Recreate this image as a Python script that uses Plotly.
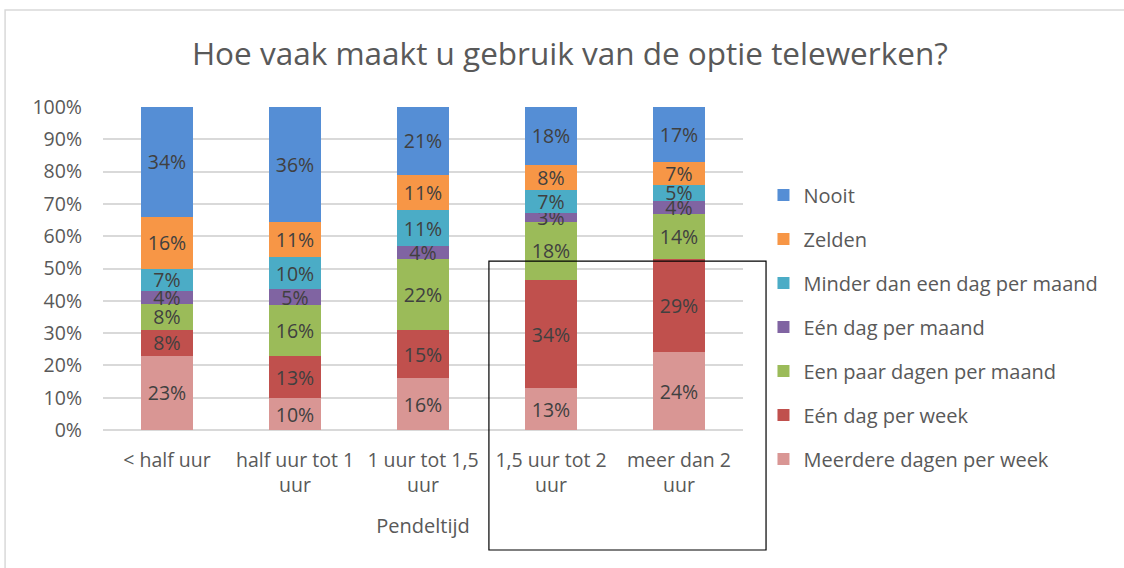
import plotly.graph_objects as go

categories = ["< half uur", "half uur tot 1<br>uur", "1 uur tot 1,5<br>uur", "1,5 uur tot 2<br>uur", "meer dan 2<br>uur"]

series_names = ["Meerdere dagen per week", "Eén dag per week", "Een paar dagen per maand",
                "Eén dag per maand", "Minder dan een dag per maand", "Zelden", "Nooit"]

meerdere_dagen_per_week = [23, 10, 16, 13, 24]
een_dag_per_week = [8, 13, 15, 34, 29]
een_paar_dagen_per_maand = [8, 16, 22, 18, 14]
een_dag_per_maand = [4, 5, 4, 3, 4]
minder_dan_een_dag_per_maand = [7, 10, 11, 7, 5]
zelden = [16, 11, 11, 8, 7]
nooit = [34, 36, 21, 18, 17]

series_values = [meerdere_dagen_per_week, een_dag_per_week, een_paar_dagen_per_maand,
                 een_dag_per_maand, minder_dan_een_dag_per_maand, zelden, nooit]
colors = ["#D99694", "#C0504D", "#9BBB59", "#8064A2", "#4BACC6", "#F79646", "#558ED5"]

FONT = "Open Sans"
TXT = "#595959"

fig = go.Figure()
n = len(series_names)
for i, (name, vals, col) in enumerate(zip(series_names, series_values, colors)):
    fig.add_trace(go.Bar(
        x=categories, y=vals, name=name, legendgroup=name, legendrank=n - i,
        marker=dict(color=col, line=dict(width=0)),
        text=[f"{v}%" for v in vals], textposition="inside",
        insidetextanchor="middle", constraintext="none",
        textfont=dict(family=FONT, size=19.5, color="#404040"),
        hoverinfo="skip",
    ))

fig.update_layout(
    barmode="stack", barnorm="percent", bargap=0.59,
    width=1124, height=568,
    margin=dict(l=103, r=381, t=107, b=138),
    paper_bgcolor="white", plot_bgcolor="white",
    uniformtext=dict(minsize=19.5, mode="show"),
    title=dict(text="Hoe vaak maakt u gebruik van de optie telewerken?",
               font=dict(family=FONT, size=31.5, color=TXT),
               x=0.507, xanchor="center", y=0.905, yanchor="middle"),
    legend=dict(traceorder="grouped", tracegroupgap=15,
                font=dict(family=FONT, size=20, color=TXT),
                bgcolor="rgba(0,0,0,0)",
                x=1.032, xanchor="left", y=0.319, yanchor="middle",
                itemwidth=30),
    showlegend=True,
    xaxis=dict(tickfont=dict(family=FONT, size=19.5, color=TXT),
               ticklabelstandoff=16,
               title=dict(text="Pendeltijd", font=dict(family=FONT, size=20, color=TXT), standoff=22),
               showline=False, ticks=""),
    yaxis=dict(range=[0, 100], dtick=10, ticksuffix="%",
               tickfont=dict(family=FONT, size=19.5, color=TXT),
               ticklabelstandoff=20,
               gridcolor="#D9D9D9", gridwidth=1.5, zeroline=True,
               zerolinecolor="#D9D9D9", zerolinewidth=1.5, showline=False),
    shapes=[
        dict(type="rect", xref="paper", yref="paper", x0=-0.153, x1=1.62, y0=-0.48, y1=1.3003,
             line=dict(color="#D9D9D9", width=1.5), fillcolor="rgba(0,0,0,0)"),
        dict(type="rect", xref="paper", yref="paper", x0=0.603, x1=1.036, y0=-0.3715, y1=0.523,
             line=dict(color="black", width=1.2), fillcolor="rgba(0,0,0,0)"),
    ],
)

fig.write_html("out.html", config={"displayModeBar": False},
               post_script="document.body.style.margin='0';")
